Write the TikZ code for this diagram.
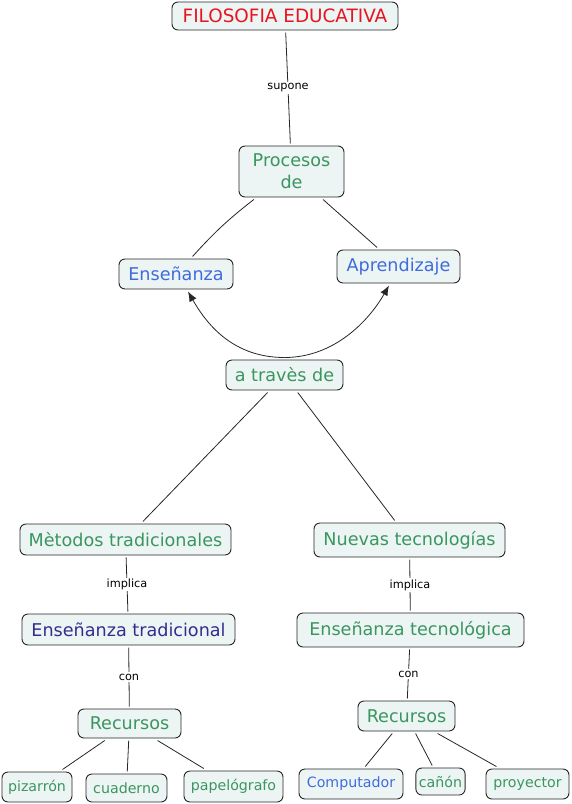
\documentclass[tikz,border=0pt]{standalone}
\usepackage{fontspec}
\setmainfont{DejaVu Sans}
\usetikzlibrary{arrows.meta, positioning, calc}
\definecolor{mapfill}{RGB}{237, 244, 244}
\definecolor{mapred}{RGB}{232, 20, 30}
\definecolor{mapgreen}{RGB}{58, 150, 95}
\definecolor{mapblue}{RGB}{62, 108, 220}
\definecolor{mapnavy}{RGB}{48, 48, 140}

\begin{document}
\begin{tikzpicture}[x=1pt,y=-1pt,
		concept/.style={draw=black!85,line width=0.9pt,rounded corners=6pt,fill=mapfill,text=mapgreen,
			inner xsep=3pt,inner ysep=1pt,outer sep=2.5pt,font=\fontsize{17.6}{22}\selectfont},
		leaf/.style={concept,font=\fontsize{14.2}{16}\selectfont},
		link/.style={fill=white,inner sep=1.5pt,font=\fontsize{11.3}{13}\selectfont},
		conn/.style={draw=black!85,line width=0.8pt}]
	\useasboundingbox (0,0) rectangle (571,804);
	\node[concept,text=mapred,minimum width=226,minimum height=28,font=\fontsize{18.4}{22}\selectfont] (filo) at (285,16) {FILOSOFIA EDUCATIVA};
	\node[concept,align=center,minimum width=105,minimum height=51] (proc) at (291.5,171.5) {Procesos\\de};
	\node[concept,text=mapblue,minimum width=114,minimum height=30] (ense) at (176,274) {Enseñanza};
	\node[concept,text=mapblue,minimum width=123,minimum height=33] (apre) at (398.5,266.5) {Aprendizaje};
	\node[concept,minimum width=117,minimum height=30] (trav) at (284.5,375) {a travès de};
	\node[concept,minimum width=211,minimum height=31] (meto) at (125.5,539.5) {Mètodos tradicionales};
	\node[concept,minimum width=191,minimum height=34] (nuev) at (409.5,540) {Nuevas tecnologías};
	\node[concept,text=mapnavy,minimum width=213,minimum height=31] (etra) at (128.5,629.5) {Enseñanza tradicional};
	\node[concept,minimum width=227,minimum height=34] (etec) at (410.5,630) {Enseñanza tecnológica};
	\node[concept,minimum width=103,minimum height=29] (recl) at (129.5,723.5) {Recursos};
	\node[concept,minimum width=97,minimum height=30] (recr) at (406.5,716) {Recursos};
	\node[leaf,minimum width=70,minimum height=30] (piza) at (37,787) {pizarrón};
	\node[leaf,minimum width=81,minimum height=28] (cuad) at (126.5,788) {cuaderno};
	\node[leaf,minimum width=99,minimum height=31] (pape) at (233.5,786.5) {papelógrafo};
	\node[leaf,text=mapblue,minimum width=104,minimum height=30] (comp) at (351,784) {Computador};
	\node[leaf,minimum width=49,minimum height=27] (cano) at (440.5,781.5) {cañón};
	\node[leaf,minimum width=83,minimum height=30] (proy) at (527.5,784) {proyector};

	\draw[conn] (filo) -- node[link] {supone} (proc);
	\draw[conn] (proc) to[bend right=5] (ense);
	\draw[conn] (proc) -- (apre);
	\draw[conn,-{Latex[length=10pt,width=8pt]}] (trav.north) .. controls +(-50,0) and +(20,35) .. ([xshift=12pt]ense.south);
	\draw[conn,-{Latex[length=10pt,width=8pt]}] (trav.north) .. controls +(50,0) and +(-20,35) .. ([xshift=-9.5pt]apre.south);
	\draw[conn] (trav) -- (meto);
	\draw[conn] (trav) -- (nuev);
	\draw[conn] (meto) -- node[link] {implica} (etra);
	\draw[conn] (nuev) -- node[link] {implica} (etec);
	\draw[conn] (etra) -- node[link] {con} (recl);
	\draw[conn] (etec) -- node[link] {con} (recr);
	\foreach \leafname in {piza,cuad,pape}
		\draw[conn] (recl) -- (\leafname);
	\foreach \leafname in {comp,cano,proy}
		\draw[conn] (recr) -- (\leafname);
\end{tikzpicture}
\end{document}
